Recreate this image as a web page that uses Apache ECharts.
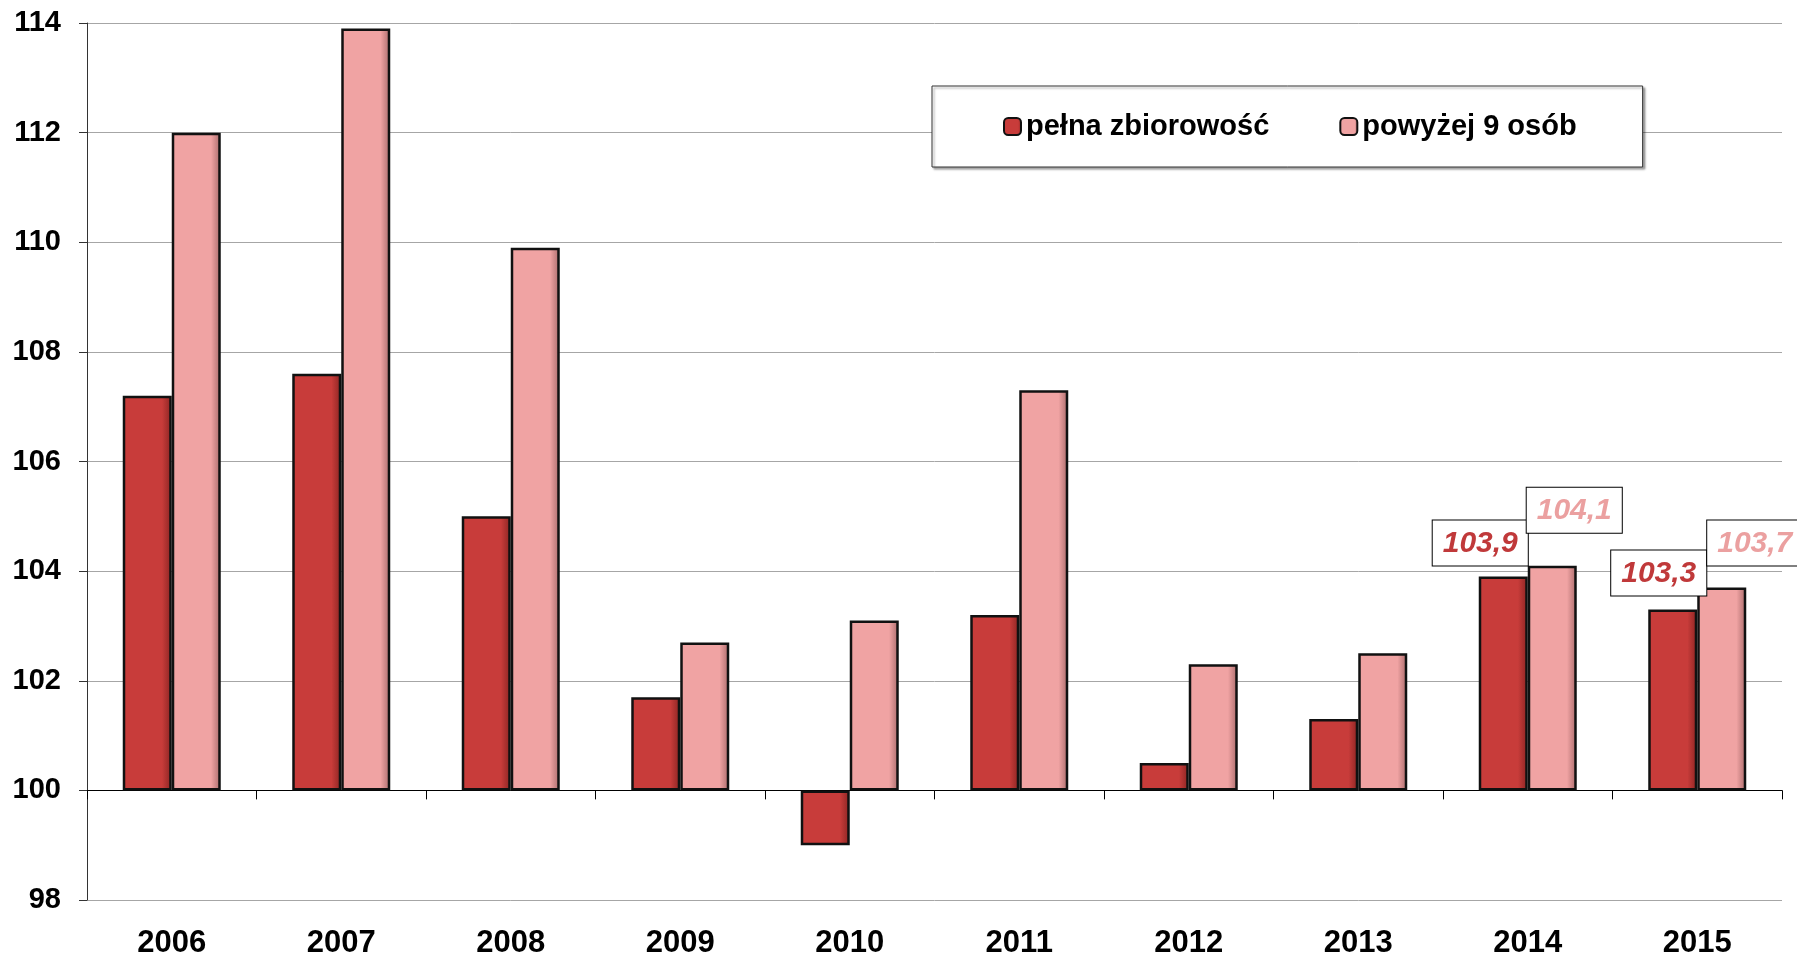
<!DOCTYPE html>
<html>
<head>
<meta charset="utf-8">
<script src="https://cdn.jsdelivr.net/npm/echarts@6/dist/echarts.min.js"></script>
<style>
  html, body { margin: 0; padding: 0; background: #fff; }
  #chart { width: 1797px; height: 954px; }
</style>
</head>
<body>
<div id="chart"></div>
<script>
// dane
var years = ['2006', '2007', '2008', '2009', '2010', '2011', '2012', '2013', '2014', '2015'];
var pelnaZbiorowosc = [107.2, 107.6, 105.0, 101.7, 99.0, 103.2, 100.5, 101.3, 103.9, 103.3];
var powyzej9 = [112.0, 113.9, 109.9, 102.7, 103.1, 107.3, 102.3, 102.5, 104.1, 103.7];
var seriesNames = ['pełna zbiorowość', 'powyżej 9 osób'];
var base = 100; // slupki rysowane od 100

var red = '#C83C3A';
var pink = '#F0A3A3';

function fmt(v) {
  return (v + base).toFixed(1).replace('.', ',');
}

// etykiety tylko dla dwoch ostatnich lat, przesuniecia jak w oryginale
var labelOffsets = [
  { 8: [-23, -11], 9: [-14, -14] },
  { 8: [22, -33], 9: [33, -22] }
];

function buildData(values, idx, color) {
  return values.map(function (v, i) {
    var item = { value: +(v - base).toFixed(2) };
    var off = labelOffsets[idx][i];
    if (off) {
      item.label = {
        show: true,
        position: 'top',
        distance: 0,
        offset: off,
        formatter: function (p) { return fmt(p.value); },
        color: color,
        fontFamily: 'Liberation Sans, Arial, sans-serif',
        fontWeight: 'bold',
        fontStyle: 'italic',
        fontSize: 30,
        lineHeight: 30,
        backgroundColor: '#fff',
        borderColor: '#000',
        borderWidth: 1,
        padding: [8, 10, 7, 10]
      };
    }
    return item;
  });
}

function grad(c, dark) {
  return new echarts.graphic.LinearGradient(0, 0, 1, 0, [
    { offset: 0, color: c },
    { offset: 0.8, color: c },
    { offset: 1, color: dark }
  ]);
}

var chart = echarts.init(document.getElementById('chart'));
var option = {
  animation: false,
  backgroundColor: '#fff',
  textStyle: { fontFamily: 'Liberation Sans, Arial, sans-serif' },
  grid: { left: 87, right: 15, top: 23, bottom: 54, outerBoundsMode: 'none', containLabel: false },
  legend: {
    left: 932,
    top: 86,
    padding: [26, 66, 26, 71],
    itemGap: 70,
    itemWidth: 17,
    itemHeight: 17,
    borderColor: '#333',
    borderWidth: 1,
    backgroundColor: '#fff',
    shadowColor: 'rgba(0,0,0,0.35)',
    shadowBlur: 2,
    shadowOffsetX: 2,
    shadowOffsetY: 2,
    textStyle: { fontSize: 29, fontWeight: 'bold', color: '#000' },
    data: seriesNames
  },
  xAxis: [
    {
      type: 'category',
      data: years,
      position: 'bottom',
      axisLine: { show: false, onZero: false },
      axisTick: { show: false },
      axisLabel: { fontSize: 31, fontWeight: 'bold', color: '#000', margin: 28 }
    },
    {
      type: 'category',
      data: years,
      position: 'bottom',
      axisLine: { show: true, onZero: true, lineStyle: { color: '#000', width: 1 } },
      axisTick: { show: true, interval: 0, length: 9, lineStyle: { color: '#000' } },
      axisLabel: { show: false }
    }
  ],
  yAxis: {
    type: 'value',
    min: -2,
    max: 14,
    interval: 2,
    axisLine: { show: true, lineStyle: { color: '#333', width: 1 } },
    axisTick: { show: true, length: 8, lineStyle: { color: '#333' } },
    axisLabel: {
      fontSize: 29, fontWeight: 'bold', color: '#000', margin: 26,
      formatter: function (v) { return String(v + base); }
    },
    splitLine: { show: true, lineStyle: { color: '#A6A6A6', width: 1 } }
  },
  series: [
    {
      name: seriesNames[0],
      type: 'bar',
      xAxisIndex: 0,
      barWidth: 49,
      barGap: '0%',
      itemStyle: { color: grad(red, '#8A2422'), borderColor: '#111', borderWidth: 2.5 },
      data: buildData(pelnaZbiorowosc, 0, '#C0393A')
    },
    {
      name: seriesNames[1],
      type: 'bar',
      xAxisIndex: 0,
      barWidth: 49,
      barGap: '0%',
      itemStyle: { color: grad(pink, '#A86A6A'), borderColor: '#111', borderWidth: 2.5 },
      data: buildData(powyzej9, 1, '#EBA0A0')
    }
  ]
};
chart.setOption(option);
</script>
</body>
</html>
